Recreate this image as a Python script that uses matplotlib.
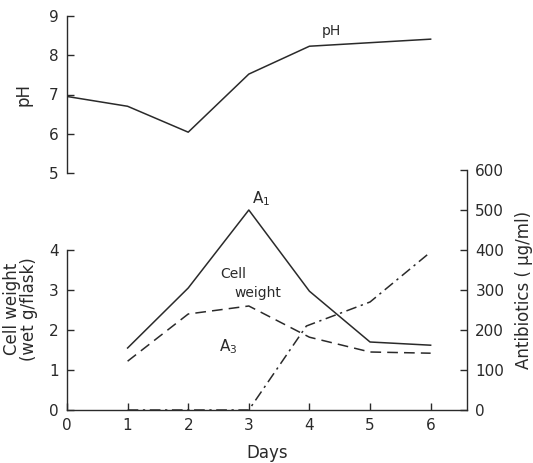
import matplotlib
matplotlib.use("Agg")
import matplotlib.pyplot as plt

# Data
days = [0, 1, 2, 3, 4, 5, 6]
ph = [6.95, 6.70, 6.04, 7.52, 8.23, 8.32, 8.41]

growth_days = [1, 2, 3, 4, 5, 6]
cell_weight = [1.22, 2.40, 2.60, 1.82, 1.45, 1.42]   # wet g/flask
a1 = [155, 305, 500, 297, 170, 162]                  # ug/ml
a3_days = [1, 2, 3, 3.95, 5, 6]
a3 = [0, 0, 0, 210, 270, 395]                        # ug/ml

INK = "#2a2a2a"
W, H = 533, 463

plt.rcParams["font.family"] = "DejaVu Sans"
plt.rcParams["mathtext.fontset"] = "dejavusans"

fig = plt.figure(figsize=(W / 100, H / 100), dpi=100)
fig.patch.set_facecolor("white")


def frac(x0, y0, x1, y1):
    """pixel box (top-left origin) -> figure fraction rect"""
    return [x0 / W, 1 - y1 / H, (x1 - x0) / W, (y1 - y0) / H]


def style_axis(ax):
    for s in ax.spines.values():
        s.set_color(INK)
        s.set_linewidth(1.0)
    ax.tick_params(direction="in", length=5, width=1.0, colors=INK,
                   labelsize=11, pad=6)
    ax.set_facecolor("none")


# pH panel
ax_ph = fig.add_axes(frac(67, 16, 467, 173))
style_axis(ax_ph)
ax_ph.plot(days, ph, color=INK, lw=1.1)
ax_ph.set_xlim(0, 6.6)
ax_ph.set_ylim(5, 9)
ax_ph.set_yticks([5, 6, 7, 8, 9])
ax_ph.set_xticks([])
for s in ["top", "right", "bottom"]:
    ax_ph.spines[s].set_visible(False)
ax_ph.set_ylabel("pH", fontsize=12, color=INK, labelpad=12)
ax_ph.text(4.2, 8.45, "pH", fontsize=10, color=INK, ha="left", va="bottom")

# growth / antibiotics panel
ax = fig.add_axes(frac(67, 170, 467, 410))
style_axis(ax)
ax.plot(growth_days, cell_weight, color=INK, lw=1.1, dashes=(7, 4))
ax.set_xlim(0, 6.6)
ax.set_ylim(0, 6)
ax.set_yticks([0, 1, 2, 3, 4])
ax.set_xticks(days)
ax.spines["top"].set_visible(False)
ax.spines["right"].set_visible(False)
ax.spines["left"].set_bounds(0, 4)
ax.set_xlabel("Days", fontsize=12, color=INK, labelpad=8)
ax.set_ylabel("Cell weight\n(wet g/flask)", fontsize=12, color=INK,
              labelpad=8, y=0.42, linespacing=0.95)

ax2 = ax.twinx()
style_axis(ax2)
ax2.plot(growth_days, a1, color=INK, lw=1.1)
ax2.plot(a3_days, a3, color=INK, lw=1.1, dashes=(7, 3, 1.5, 3))
ax2.set_ylim(0, 600)
ax2.set_yticks([0, 100, 200, 300, 400, 500, 600])
for s in ["top", "left", "bottom"]:
    ax2.spines[s].set_visible(False)
ax2.set_ylabel("Antibiotics ( µg/ml)", fontsize=12, color=INK, labelpad=8)

ax2.text(3.05, 505, r"A$_1$", fontsize=11, color=INK, ha="left", va="bottom")
ax2.text(2.75, 322, "Cell", fontsize=10, color=INK, ha="center", va="bottom")
ax2.text(3.15, 275, "weight", fontsize=10, color=INK, ha="center", va="bottom")
ax2.text(2.5, 135, r"A$_3$", fontsize=11, color=INK, ha="left", va="bottom")

fig.savefig("out.png", dpi=100, facecolor="white")
